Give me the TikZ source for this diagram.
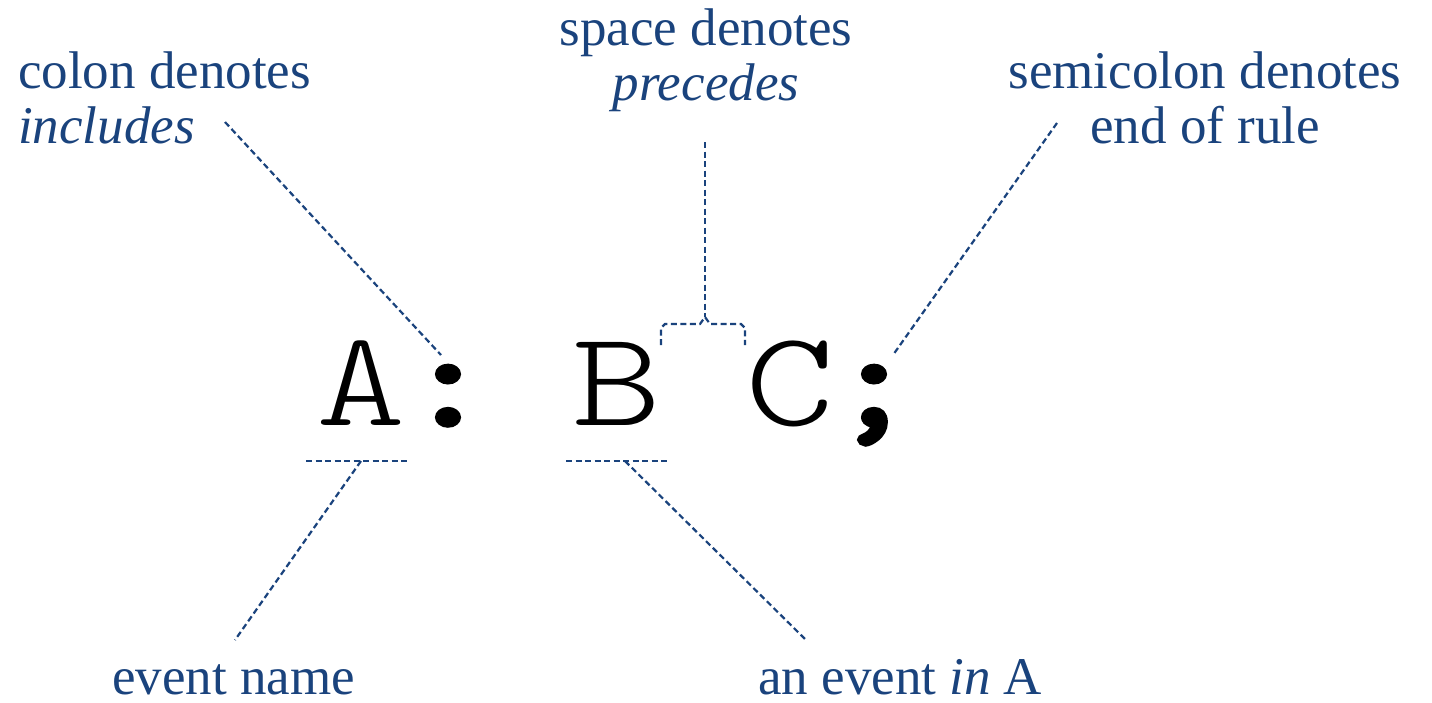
\documentclass[tikz,border=0pt]{standalone}
\usepackage{fontspec}
\setmainfont{Liberation Serif}
\newfontfamily\codefont{Latin Modern Mono Light}
\newfontfamily\codeboldfont[FakeBold=4]{Latin Modern Mono}
\definecolor{lblue}{RGB}{26,67,125}
\newcommand{\wideglyph}[1]{\scalebox{1.25}[1]{#1}}
\begin{document}
\begin{tikzpicture}[x=1pt,y=-1pt,
  lbl/.style={text=lblue, font=\fontsize{53}{55}\selectfont, inner sep=0pt},
  code/.style={font=\codefont\fontsize{136}{136}\selectfont, inner sep=0pt, anchor=base},
  codeb/.style={font=\codeboldfont\fontsize{136}{136}\selectfont, inner sep=0pt, anchor=base},
  lead/.style={draw=lblue, line width=2.2pt, dash pattern=on 6pt off 3.5pt}]
\useasboundingbox[fill=white] (0,0) rectangle (1432,702);

% labels
\node[lbl, anchor=base west, align=left] (colonlbl) at (18,143) {colon denotes\\\textit{includes}};
\node[lbl, anchor=base, align=center] (spacelbl) at (706,100) {space denotes\\\textit{precedes}};
\node[lbl, anchor=base, align=center] (semilbl) at (1205,143) {semicolon denotes\\end of rule};
\node[lbl, anchor=base west] (namelbl) at (112,694) {event name};
\node[lbl, anchor=base west] (inlbl) at (758,694) {an event \textit{in} A};

% code
\node[code] (A) at (361,425) {\wideglyph{A}};
\node[codeb] (colon) at (448,425) {\wideglyph{:}};
\node[code] (B) at (617,425) {\wideglyph{B}};
\node[code] (C) at (790,425) {\wideglyph{C}};
\node[codeb] (semi) at (874,425) {\wideglyph{;}};

% coordinates
\coordinate (c1) at (225,122);
\coordinate (c2) at (441,355);
\coordinate (p1) at (705,142);
\coordinate (p2) at (705,317);
\coordinate (s1) at (1057,123);
\coordinate (s2) at (893,355);
\coordinate (a1) at (306,461);
\coordinate (a2) at (410,461);
\coordinate (am) at (361,461);
\coordinate (a3) at (235,640);
\coordinate (b1) at (566,461);
\coordinate (b2) at (670,461);
\coordinate (bm) at (625,461);
\coordinate (b3) at (806,640);

% leaders
\draw[lead] (c1) -- (c2);
\draw[lead] (p1) -- (p2);
\draw[lead] (661,345) -- (661,328) -- (665,324) -- (700,324) -- (p2) -- (710,324) -- (741,324) -- (745,328) -- (745,345);
\draw[lead] (s1) -- (s2);
\draw[lead] (a1) -- (a2);
\draw[lead] (am) -- (a3);
\draw[lead] (b1) -- (b2);
\draw[lead] (bm) -- (b3);
\end{tikzpicture}
\end{document}
